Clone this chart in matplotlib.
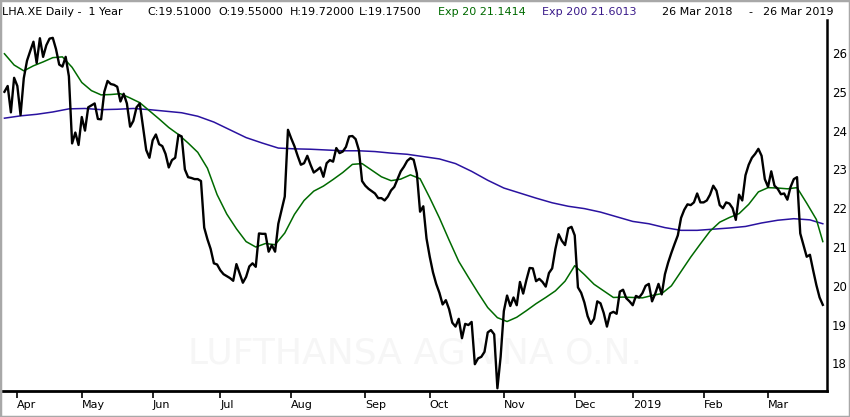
import numpy as np
import pandas as pd
import matplotlib
matplotlib.use('Agg')
import matplotlib.pyplot as plt
from matplotlib.patches import Rectangle

# Daily closes, one list per month (Xetra trading days)
mar18 = [25.0, 25.15, 24.47, 25.36]
apr18 = [25.15, 24.4, 25.35, 25.8, 26.05, 26.29, 25.74, 26.38, 25.9, 26.2,
         26.37, 26.39, 26.1, 25.7, 25.65, 25.9, 25.4, 23.67, 23.95, 23.63]
may18 = [24.35, 24.0, 24.6, 24.65, 24.7, 24.3, 24.29, 25.0, 25.28, 25.2,
         25.18, 25.13, 24.75, 24.95, 24.7, 24.1, 24.25, 24.6, 24.7, 24.1,
         23.5, 23.3]
jun18 = [23.75, 23.9, 23.65, 23.6, 23.4, 23.05, 23.24, 23.3, 23.89, 23.85,
         23.0, 22.8, 22.78, 22.75, 22.75, 22.7, 21.5, 21.2, 20.95, 20.58, 20.55]
jul18 = [20.4, 20.3, 20.25, 20.2, 20.13, 20.56, 20.32, 20.08, 20.23, 20.5,
         20.58, 20.49, 21.35, 21.34, 21.34, 20.88, 21.05, 20.88, 21.6, 21.95,
         22.3, 24.02]
aug18 = [23.8, 23.6, 23.35, 23.12, 23.16, 23.35, 23.12, 22.92, 22.98, 23.05,
         22.81, 23.16, 23.24, 23.2, 23.55, 23.42, 23.46, 23.58, 23.85, 23.86,
         23.78, 23.5, 22.7]
sep18 = [22.58, 22.5, 22.44, 22.38, 22.26, 22.26, 22.2, 22.3, 22.46, 22.55,
         22.75, 22.95, 23.07, 23.22, 23.29, 23.25, 22.9, 21.91, 22.05, 21.22]
oct18 = [20.75, 20.35, 20.05, 19.82, 19.52, 19.63, 19.4, 19.05, 18.95, 19.15,
         18.65, 19.02, 18.99, 19.07, 17.98, 18.13, 18.17, 18.3, 18.8, 18.86,
         18.75, 17.36, 18.17]
nov18 = [19.35, 19.75, 19.48, 19.7, 19.5, 20.1, 19.8, 20.15, 20.46, 20.45,
         20.12, 20.18, 20.1, 19.98, 20.33, 20.45, 20.95, 21.33, 21.16, 21.05,
         21.48, 21.52]
dec18 = [21.3, 19.96, 19.82, 19.57, 19.22, 19.02, 19.15, 19.6, 19.55, 19.3,
         18.95, 19.29, 19.33, 19.28, 19.85, 19.9, 19.68, 19.6]
jan19 = [19.5, 19.74, 19.7, 19.81, 20.0, 20.05, 19.6, 19.8, 20.05, 19.78,
         20.3, 20.6, 20.85, 21.08, 21.3, 21.75, 21.96, 22.1, 22.08, 22.15,
         22.38, 22.15]
feb19 = [22.15, 22.2, 22.35, 22.58, 22.45, 22.08, 22.0, 22.15, 22.12, 22.0,
         21.7, 22.35, 22.2, 22.85, 23.12, 23.3, 23.4, 23.53, 23.35, 22.75]
mar19 = [22.55, 22.95, 22.58, 22.5, 22.36, 22.38, 22.22, 22.55, 22.75, 22.8,
         21.35, 21.05, 20.75, 20.8, 20.4, 20.02, 19.7, 19.51]

holidays = ['2018-03-30', '2018-04-02', '2018-05-01', '2018-12-24',
            '2018-12-25', '2018-12-26', '2019-01-01']

# Exp 20 read every 3rd trading day (plus last), Exp 200 every 5th (plus last)
ema20 = [25.98, 25.69, 25.54, 25.67, 25.77, 25.88, 25.9, 25.63, 25.24, 25.03,
         24.92, 24.93, 24.95, 24.84, 24.72, 24.51, 24.3, 24.08, 23.9, 23.68,
         23.44, 23.03, 22.35, 21.85, 21.47, 21.14, 21.0, 21.09, 21.06, 21.36,
         21.84, 22.2, 22.44, 22.57, 22.74, 22.92, 23.13, 23.15, 22.98, 22.81,
         22.71, 22.75, 22.86, 22.76, 22.27, 21.75, 21.18, 20.63, 20.22, 19.82,
         19.44, 19.18, 19.08, 19.19, 19.36, 19.54, 19.7, 19.87, 20.12, 20.52,
         20.29, 20.04, 19.87, 19.7, 19.71, 19.7, 19.69, 19.75, 19.8, 20.0,
         20.37, 20.74, 21.08, 21.41, 21.64, 21.76, 21.86, 22.1, 22.42, 22.53,
         22.52, 22.5, 22.53, 22.13, 21.71, 21.14]
ema200 = [24.32, 24.38, 24.42, 24.48, 24.56, 24.57, 24.54, 24.55, 24.57, 24.54,
          24.5, 24.46, 24.37, 24.22, 24.02, 23.82, 23.68, 23.55, 23.53, 23.52,
          23.5, 23.48, 23.48, 23.46, 23.42, 23.39, 23.33, 23.27, 23.15, 22.95,
          22.72, 22.52, 22.39, 22.26, 22.14, 22.05, 21.99, 21.9, 21.78, 21.66,
          21.6, 21.5, 21.43, 21.43, 21.46, 21.49, 21.53, 21.62, 21.69, 21.73,
          21.7, 21.6]

closes = (mar18 + apr18 + may18 + jun18 + jul18 + aug18 + sep18 + oct18
          + nov18 + dec18 + jan19 + feb19 + mar19)
days = pd.bdate_range('2018-03-26', '2019-03-26')
days = days[~days.isin(pd.to_datetime(holidays))]
n = len(days)
assert n == len(closes)

idx = np.arange(n)
idx20 = list(range(0, n - 1, 3)) + [n - 1]
idx200 = list(range(0, n - 1, 5)) + [n - 1]

W, H = 850, 417
fig = plt.figure(figsize=(W / 100, H / 100), dpi=100)
ax = fig.add_axes([3 / W, 1 - 391 / H, 824 / W, 371 / H])

ax.text(0.5, 0.1, 'LUFTHANSA AG VNA O.N.', transform=ax.transAxes,
        ha='center', va='center', fontsize=26, color='#f6f6f6',
        family=['Liberation Sans Narrow', 'DejaVu Sans'], zorder=0)

ax.plot(idx200, ema200, color='#2a12a0', lw=1.1, zorder=2)
ax.plot(idx20, ema20, color='#006a00', lw=1.1, zorder=3)
ax.plot(idx, closes, color='black', lw=1.7, zorder=4)

ax.set_xlim(-0.45, 255.3)
ax.set_ylim(17.29, 26.85)

# month ticks at first trading day of each month
month = days.month
starts = [i for i in range(1, n) if month[i] != month[i - 1]]
labels = ['2019' if days[i].month == 1 else days[i].strftime('%b') for i in starts]
ax.set_xticks(starts)
ax.set_xticklabels(labels, ha='left', fontsize=8)
ax.tick_params(axis='x', direction='out', length=5, width=1.2, pad=1.5)

ax.yaxis.tick_right()
ax.set_yticks(range(18, 27))
ax.tick_params(axis='y', length=0, pad=3.5, labelsize=8.5)

for s in ['top', 'left']:
    ax.spines[s].set_visible(False)
ax.spines['bottom'].set_linewidth(2)
ax.spines['right'].set_linewidth(1.8)

# header line
base = 1 - 15 / H
header = [
    (2, 'LHA.XE Daily -  1 Year', 'black'),
    (147, 'C:19.51000', 'black'),
    (218, 'O:19.55000', 'black'),
    (290, 'H:19.72000', 'black'),
    (359, 'L:19.17500', 'black'),
    (438, 'Exp 20 21.1414', '#006a00'),
    (542, 'Exp 200 21.6013', '#3a1a8a'),
    (662, '26 Mar 2018', 'black'),
    (748, '-', 'black'),
    (763, '26 Mar 2019', 'black'),
]
for x, t, c in header:
    fig.text(x / W, base, t, color=c, fontsize=8, va='baseline', ha='left')

fig.patches.append(Rectangle((0, 0), 1, 1, transform=fig.transFigure,
                             fill=False, edgecolor='#a8a8a8', lw=2.5))

fig.savefig('out.png', dpi=100)
